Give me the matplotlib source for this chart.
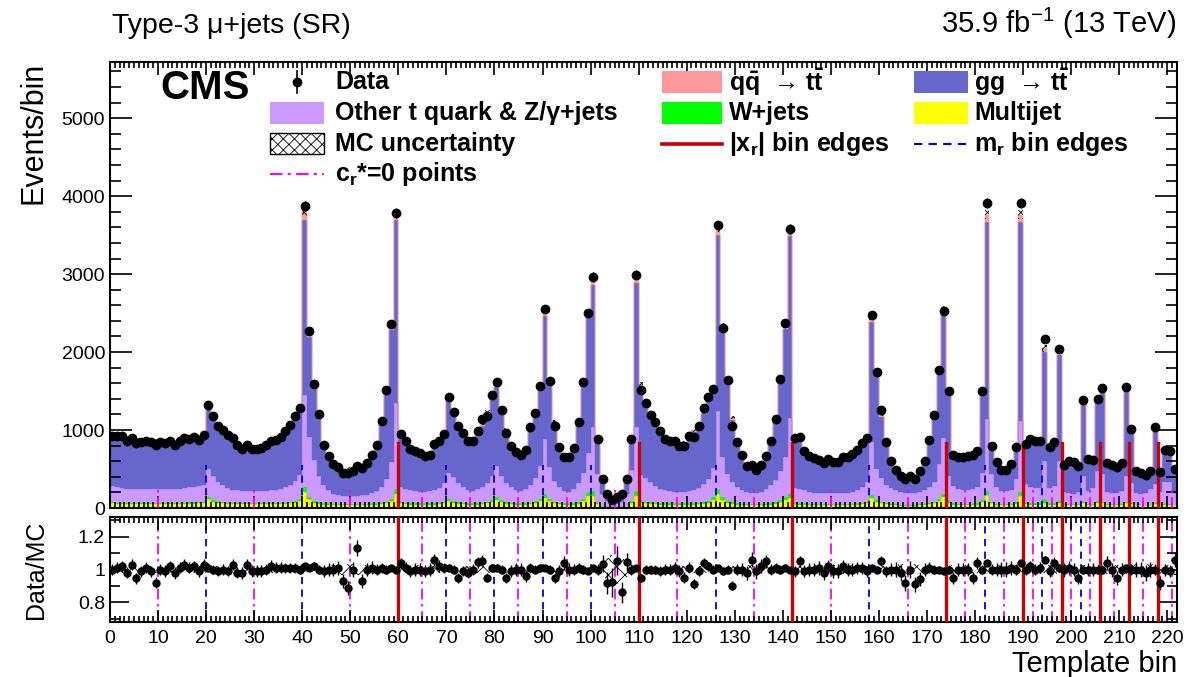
import numpy as np
import matplotlib
matplotlib.use("Agg")
import matplotlib.pyplot as plt
from matplotlib.patches import Rectangle
from matplotlib.lines import Line2D
from matplotlib.ticker import MultipleLocator

plt.rcParams['font.family'] = ['Liberation Sans', 'DejaVu Sans']
plt.rcParams['mathtext.fontset'] = 'custom'
plt.rcParams['mathtext.rm'] = 'Liberation Sans'
plt.rcParams['mathtext.it'] = 'Liberation Sans:italic'
plt.rcParams['mathtext.bf'] = 'Liberation Sans:bold'
plt.rcParams['hatch.linewidth'] = 0.6

# ---------------- data ----------------
data = [
    919, 919, 919, 864, 897, 833, 845, 864, 845, 803,
    845, 833, 864, 812, 864, 897, 889, 914, 876, 940,
    1325, 1175, 1056, 1000, 940, 897, 803, 760, 812, 760,
    760, 769, 803, 855, 876, 906, 983, 1060, 1175, 1282,
    3871, 2275, 1594, 1205, 812, 663, 564, 522, 448, 448,
    470, 534, 512, 577, 675, 803, 1120, 1518, 2361, 3786,
    949, 864, 760, 735, 705, 671, 684, 820, 855, 949,
    1424, 1231, 1047, 961, 855, 864, 991, 1141, 1175, 1454,
    1612, 1261, 961, 790, 713, 684, 748, 1034, 1218, 1560,
    2557, 1624, 1056, 778, 654, 654, 769, 1103, 1616, 2502,
    2968, 889, 376, 179, 106, 136, 179, 376, 889, 2994,
    1509, 1347, 1197, 1099, 983, 889, 855, 855, 799, 799,
    919, 906, 1047, 1282, 1419, 1526, 3627, 2310, 1646, 1047,
    845, 684, 534, 547, 491, 547, 663, 864, 1146, 1655,
    2374, 3580, 897, 906, 735, 663, 641, 620, 577, 628,
    590, 590, 654, 654, 692, 748, 833, 897, 2472, 1745,
    1261, 845, 598, 491, 406, 376, 406, 376, 470, 607,
    876, 1197, 1766, 2532, 1505, 684, 654, 654, 663, 684,
    735, 1505, 3914, 790, 585, 491, 491, 564, 778, 3914,
    824, 880, 864, 864, 2170, 778, 845, 2035, 547, 607,
    590, 534, 1385, 628, 620, 1402, 1535, 577, 547, 525,
    577, 1547, 1017, 470, 448, 427, 470, 1034, 461, 748,
    735, 504]

multijet = [
    60, 55, 55, 55, 55, 55, 55, 55, 55, 55,
    55, 55, 55, 55, 55, 55, 55, 55, 60, 60,
    110, 80, 65, 60, 55, 50, 50, 50, 50, 50,
    50, 50, 50, 50, 50, 55, 55, 60, 70, 90,
    200, 110, 70, 55, 45, 45, 40, 40, 40, 40,
    40, 40, 40, 40, 45, 45, 50, 60, 90, 180,
    60, 50, 45, 45, 45, 45, 45, 45, 50, 60,
    90, 70, 55, 50, 45, 45, 45, 50, 60, 80,
    100, 75, 55, 50, 45, 45, 45, 50, 65, 90,
    130, 90, 60, 50, 45, 45, 45, 55, 90, 150,
    160, 50, 20, 10, 6, 6, 10, 20, 60, 160,
    70, 60, 55, 50, 45, 45, 45, 45, 45, 45,
    45, 45, 50, 55, 70, 100, 180, 100, 65, 55,
    45, 40, 35, 35, 35, 35, 40, 45, 55, 75,
    100, 130, 50, 45, 45, 40, 40, 40, 40, 40,
    40, 40, 40, 40, 40, 45, 50, 60, 130, 80,
    60, 50, 40, 35, 30, 30, 30, 30, 35, 40,
    50, 60, 90, 140, 70, 45, 40, 40, 40, 40,
    45, 80, 170, 60, 40, 35, 35, 40, 55, 160,
    50, 45, 45, 45, 70, 45, 45, 60, 40, 40,
    40, 40, 60, 40, 40, 70, 60, 40, 40, 40,
    40, 60, 50, 35, 35, 35, 35, 50, 35, 45,
    45, 35]

wjets = [
    15, 15, 15, 15, 15, 15, 15, 15, 15, 15,
    15, 15, 15, 15, 15, 15, 20, 20, 20, 20,
    35, 25, 20, 15, 15, 15, 15, 15, 15, 15,
    15, 15, 15, 15, 15, 15, 15, 20, 20, 25,
    70, 35, 25, 20, 15, 15, 12, 12, 12, 12,
    12, 12, 12, 12, 15, 15, 15, 20, 30, 60,
    20, 15, 15, 15, 15, 15, 15, 15, 15, 20,
    30, 25, 20, 15, 15, 15, 15, 15, 20, 25,
    35, 25, 20, 15, 15, 15, 15, 15, 20, 30,
    45, 30, 20, 15, 15, 15, 15, 20, 30, 50,
    55, 20, 8, 4, 3, 3, 4, 8, 25, 60,
    25, 20, 20, 15, 15, 15, 15, 15, 15, 15,
    15, 15, 15, 20, 25, 35, 60, 35, 25, 20,
    15, 12, 12, 12, 12, 12, 12, 15, 20, 25,
    35, 50, 15, 15, 15, 12, 12, 12, 12, 12,
    12, 12, 12, 12, 12, 15, 15, 20, 40, 25,
    20, 15, 12, 12, 10, 10, 10, 10, 12, 12,
    15, 20, 30, 40, 25, 15, 12, 12, 12, 12,
    15, 25, 50, 20, 12, 12, 12, 12, 20, 50,
    20, 15, 15, 15, 40, 15, 15, 25, 12, 12,
    12, 12, 20, 12, 12, 20, 20, 12, 12, 12,
    12, 20, 15, 10, 10, 10, 10, 15, 10, 12,
    12, 10]

other_t = [
    210, 205, 185, 180, 175, 175, 175, 175, 170, 170,
    170, 170, 170, 175, 180, 185, 190, 195, 200, 215,
    355, 300, 245, 215, 190, 170, 160, 155, 150, 150,
    150, 150, 155, 160, 170, 180, 195, 215, 255, 310,
    1180, 770, 520, 330, 230, 170, 130, 115, 105, 100,
    100, 105, 110, 120, 135, 160, 210, 290, 470, 1110,
    195, 185, 170, 160, 150, 150, 155, 170, 190, 240,
    330, 300, 240, 200, 170, 160, 180, 200, 240, 300,
    400, 310, 250, 200, 170, 160, 190, 230, 300, 420,
    710, 400, 270, 200, 160, 150, 180, 240, 330, 510,
    820, 360, 150, 70, 40, 40, 60, 150, 400, 820,
    330, 300, 260, 220, 190, 170, 160, 150, 150, 150,
    160, 170, 190, 230, 280, 380, 1000, 520, 340, 255,
    210, 180, 160, 150, 150, 160, 190, 230, 280, 380,
    520, 980, 190, 185, 170, 155, 145, 140, 135, 135,
    135, 135, 140, 145, 150, 170, 200, 260, 680, 390,
    300, 230, 200, 180, 160, 150, 150, 150, 160, 175,
    200, 260, 450, 720, 320, 220, 190, 180, 180, 190,
    210, 350, 920, 350, 220, 170, 170, 180, 300, 900,
    240, 210, 200, 200, 490, 200, 220, 520, 150, 140,
    130, 150, 330, 170, 200, 380, 350, 150, 140, 140,
    170, 330, 250, 150, 140, 150, 200, 240, 160, 280,
    280, 150]

gg_tt = [
    612, 613, 624, 611, 605, 615, 588, 589, 593, 612,
    584, 580, 586, 563, 584, 595, 593, 604, 583, 595,
    779, 741, 710, 685, 665, 614, 574, 537, 553, 534,
    534, 543, 563, 592, 610, 625, 684, 729, 789, 825,
    2250, 1281, 909, 770, 510, 416, 368, 337, 313, 341,
    306, 304, 375, 391, 456, 563, 806, 1110, 1690, 2341,
    615, 584, 519, 497, 477, 451, 452, 528, 562, 597,
    925, 805, 759, 682, 620, 622, 684, 790, 886, 999,
    1021, 819, 662, 513, 465, 447, 510, 703, 803, 966,
    1584, 1063, 734, 501, 393, 428, 510, 750, 1126, 1754,
    1831, 437, 176, 106, 63, 77, 129, 173, 382, 1850,
    1123, 933, 832, 787, 718, 637, 614, 616, 577, 610,
    667, 741, 777, 897, 981, 973, 2261, 1620, 1175, 804,
    554, 435, 324, 306, 287, 316, 373, 552, 752, 1134,
    1636, 2330, 628, 596, 493, 439, 428, 407, 387, 414,
    394, 394, 433, 441, 473, 492, 539, 543, 1537, 1206,
    791, 538, 331, 252, 204, 209, 206, 213, 281, 365,
    580, 827, 1152, 1594, 1052, 422, 396, 406, 414, 460,
    419, 1012, 2528, 340, 298, 262, 262, 312, 384, 2558,
    493, 571, 582, 574, 1396, 506, 513, 1360, 331, 394,
    393, 346, 940, 390, 352, 897, 1067, 339, 341, 347,
    341, 1084, 677, 263, 252, 230, 213, 703, 284, 392,
    386, 268]

qq_tt = [
    22, 22, 22, 21, 21, 21, 21, 21, 21, 21,
    21, 21, 21, 21, 21, 22, 22, 22, 22, 23,
    33, 29, 27, 25, 24, 22, 20, 19, 20, 19,
    19, 19, 20, 21, 22, 22, 24, 26, 29, 32,
    95, 56, 39, 30, 20, 17, 14, 13, 12, 13,
    12, 12, 14, 14, 17, 20, 28, 38, 58, 95,
    23, 21, 19, 18, 18, 17, 17, 19, 21, 23,
    35, 31, 28, 24, 22, 22, 24, 27, 31, 36,
    40, 32, 25, 20, 18, 17, 19, 26, 30, 39,
    63, 41, 28, 20, 16, 16, 19, 27, 40, 63,
    73, 22, 9, 5, 3, 3, 5, 9, 22, 74,
    40, 34, 30, 27, 25, 22, 21, 21, 20, 21,
    23, 25, 26, 31, 35, 38, 90, 58, 41, 29,
    21, 17, 14, 13, 12, 13, 16, 22, 28, 41,
    59, 90, 23, 22, 19, 17, 16, 15, 15, 15,
    15, 15, 16, 16, 17, 19, 21, 23, 61, 44,
    30, 21, 15, 12, 10, 10, 10, 10, 12, 15,
    22, 30, 44, 64, 38, 18, 16, 16, 17, 18,
    18, 38, 95, 20, 15, 12, 12, 14, 19, 95,
    21, 22, 22, 21, 51, 20, 20, 50, 14, 15,
    15, 14, 35, 16, 16, 35, 38, 14, 14, 14,
    14, 38, 25, 12, 11, 11, 12, 26, 12, 19,
    19, 12]

# relative MC uncertainty per bin
mc_unc = [
    0.02, 0.02, 0.02, 0.02, 0.02, 0.02, 0.02, 0.02, 0.02, 0.02,
    0.02, 0.02, 0.02, 0.02, 0.02, 0.02, 0.02, 0.02, 0.02, 0.02,
    0.02, 0.02, 0.02, 0.02, 0.02, 0.02, 0.02, 0.02, 0.02, 0.02,
    0.02, 0.02, 0.02, 0.02, 0.02, 0.02, 0.02, 0.02, 0.02, 0.02,
    0.015, 0.015, 0.02, 0.02, 0.02, 0.025, 0.03, 0.03, 0.035, 0.035,
    0.035, 0.035, 0.03, 0.03, 0.025, 0.02, 0.02, 0.02, 0.015, 0.015,
    0.02, 0.02, 0.02, 0.025, 0.025, 0.025, 0.025, 0.02, 0.02, 0.02,
    0.02, 0.02, 0.02, 0.02, 0.02, 0.02, 0.02, 0.02, 0.02, 0.02,
    0.02, 0.02, 0.02, 0.02, 0.025, 0.025, 0.02, 0.02, 0.02, 0.02,
    0.015, 0.02, 0.02, 0.02, 0.025, 0.025, 0.02, 0.02, 0.02, 0.015,
    0.015, 0.03, 0.045, 0.07, 0.09, 0.09, 0.07, 0.045, 0.03, 0.015,
    0.02, 0.02, 0.02, 0.02, 0.02, 0.02, 0.02, 0.02, 0.02, 0.02,
    0.02, 0.02, 0.02, 0.02, 0.02, 0.02, 0.015, 0.015, 0.02, 0.02,
    0.02, 0.025, 0.03, 0.03, 0.03, 0.03, 0.025, 0.02, 0.02, 0.02,
    0.015, 0.015, 0.02, 0.02, 0.02, 0.025, 0.025, 0.025, 0.025, 0.025,
    0.025, 0.025, 0.025, 0.025, 0.025, 0.02, 0.02, 0.02, 0.015, 0.02,
    0.02, 0.02, 0.03, 0.03, 0.035, 0.035, 0.035, 0.035, 0.03, 0.025,
    0.02, 0.02, 0.02, 0.015, 0.02, 0.025, 0.025, 0.025, 0.025, 0.025,
    0.02, 0.02, 0.015, 0.025, 0.03, 0.03, 0.03, 0.03, 0.025, 0.015,
    0.025, 0.025, 0.025, 0.025, 0.02, 0.025, 0.025, 0.02, 0.03, 0.03,
    0.03, 0.03, 0.025, 0.03, 0.03, 0.025, 0.025, 0.03, 0.03, 0.03,
    0.03, 0.025, 0.025, 0.035, 0.035, 0.035, 0.035, 0.025, 0.035, 0.03,
    0.03, 0.035]

xr_edges = [60, 110, 142, 174, 190, 198, 206, 212, 218]
mr_edges = [20, 40, 70, 80, 90, 100, 126, 158, 182, 194, 202]
cr0_points = [10, 30, 50, 65, 75, 85, 95, 105, 118, 134, 150, 166, 178, 186,
              192, 196, 200, 204, 209, 215, 221]
n_bins = 222

# ---------------- colours ----------------
C_MJ = '#ffff00'
C_WJ = '#00ff00'
C_OT = '#cc99ff'
C_GG = '#6666cc'
C_QQ = '#ff9999'
C_RED = '#cc0000'
C_BLUE = '#0000dd'
C_MAG = '#ff00ff'

edges = np.arange(n_bins + 1)
centers = edges[:-1] + 0.5
data_a = np.asarray(data, float)

fig = plt.figure(figsize=(11.9, 6.77), dpi=100)
ax = fig.add_axes([0.0924, 0.2496, 0.8966, 0.6588])
rax = fig.add_axes([0.0924, 0.0812, 0.8966, 0.1551])

# stacked MC
base = np.zeros(n_bins)
for vals, col in [(multijet, C_MJ), (wjets, C_WJ), (other_t, C_OT), (gg_tt, C_GG), (qq_tt, C_QQ)]:
    v = np.asarray(vals, float)
    ax.stairs(base + v, edges, baseline=base, fill=True, facecolor=col,
              edgecolor=col, lw=0.3, zorder=1)
    base = base + v
mc = base
unc = mc * np.asarray(mc_unc)
ax.bar(centers, 2 * unc, bottom=mc - unc, width=1.0, fill=False, hatch='xxxx',
       edgecolor='black', linewidth=0, zorder=2)

# boundary lines
for e in cr0_points:
    ax.plot([e, e], [0, 270], color=C_MAG, lw=1.3, dashes=(6, 2.5, 1.5, 2.5), zorder=3)
for e in mr_edges:
    ax.plot([e, e], [0, 555], color=C_BLUE, lw=1.3, dashes=(4, 3), zorder=3)
for e in xr_edges:
    ax.plot([e, e], [0, 835], color=C_RED, lw=2.4, zorder=3)

ax.errorbar(centers, data_a, yerr=np.sqrt(data_a), fmt='o', color='black',
            ms=6, elinewidth=1, capsize=0, zorder=5)

ax.set_xlim(0, n_bins)
ax.set_ylim(0, 5720)
ax.xaxis.set_major_locator(MultipleLocator(10))
ax.xaxis.set_minor_locator(MultipleLocator(1))
ax.yaxis.set_major_locator(MultipleLocator(1000))
ax.yaxis.set_minor_locator(MultipleLocator(200))
ax.tick_params(axis='both', which='both', direction='in', top=True, right=True,
               labelbottom=False, labelsize=14, width=1.2)
ax.tick_params(axis='x', which='major', length=9)
ax.tick_params(axis='x', which='minor', length=4)
ax.tick_params(axis='y', which='major', length=16)
ax.tick_params(axis='y', which='minor', length=8)
for s in ax.spines.values():
    s.set_linewidth(1.5)
ax.set_ylabel('Events/bin', fontsize=22, loc='top')
ax.yaxis.set_label_coords(-0.058, 1.0)

# ---------------- ratio ----------------
ratio = data_a / mc
rerr = np.sqrt(data_a) / mc
runc = np.asarray(mc_unc)
rax.bar(centers, 2 * runc, bottom=1 - runc, width=1.0, fill=False, hatch='xx',
        edgecolor='black', linewidth=0, zorder=2)
for e in cr0_points:
    rax.axvline(e, color=C_MAG, lw=1.3, dashes=(6, 2.5, 1.5, 2.5), zorder=1)
for e in mr_edges:
    rax.axvline(e, color=C_BLUE, lw=1.3, dashes=(4, 3), zorder=1)
for e in xr_edges:
    rax.axvline(e, color=C_RED, lw=2.4, zorder=3)
rax.errorbar(centers, ratio, yerr=rerr, fmt='o', color='black', ms=5,
             elinewidth=1, capsize=0, zorder=5)
rax.set_xlim(0, n_bins)
rax.set_ylim(0.68, 1.32)
rax.xaxis.set_major_locator(MultipleLocator(10))
rax.xaxis.set_minor_locator(MultipleLocator(1))
rax.set_yticks([0.8, 1.0, 1.2])
rax.set_yticklabels(['0.8', '1', '1.2'])
rax.yaxis.set_minor_locator(MultipleLocator(0.1))
rax.tick_params(axis='both', which='both', direction='in', top=True, right=True,
                labelsize=14, width=1.2)
rax.tick_params(axis='x', which='major', length=9, pad=6)
rax.tick_params(axis='x', which='minor', length=4)
rax.tick_params(axis='y', which='major', length=14)
rax.tick_params(axis='y', which='minor', length=7)
for s in rax.spines.values():
    s.set_linewidth(1.5)
rax.set_ylabel('Data/MC', fontsize=18)
rax.yaxis.set_label_coords(-0.058, 0.5)
rax.set_xlabel('Template bin', fontsize=21, loc='right')
rax.xaxis.set_label_coords(1.0, -0.27)

# ---------------- header texts ----------------
fig.text(112 / 1190, 1 - 33 / 677, 'Type-3 μ+jets (SR)', fontsize=20.5, va='baseline', ha='left')
fig.text(1176 / 1190, 1 - 33 / 677, r'35.9 fb$^{\mathregular{-1}}$ (13 TeV)', fontsize=21,
         va='baseline', ha='right')
ax.text(0.047, 0.942, 'CMS', transform=ax.transAxes, fontsize=29, fontweight='bold',
        va='center', ha='left')

# ---------------- legend ----------------
rows = [0.955, 0.886, 0.817, 0.748]
sw_h = 0.048
lfs = 18
tr = ax.transAxes


def swatch(x0, x1, y, fc, hatch=None):
    r = Rectangle((x0, y - sw_h / 2), x1 - x0, sw_h, transform=tr, facecolor=fc,
                  edgecolor='black' if hatch else fc, lw=1.0 if hatch else 0,
                  hatch=hatch, zorder=6, clip_on=False)
    ax.add_patch(r)


def label(x, y, s):
    ax.text(x, y, s, transform=tr, fontsize=lfs, fontweight='bold', va='center',
            ha='left', zorder=6)


# column 1
ax.add_line(Line2D([0.175, 0.175], [rows[0] - 0.025, rows[0] + 0.025], transform=tr,
                   color='black', lw=1.2, zorder=6))
ax.add_line(Line2D([0.175], [rows[0]], transform=tr, marker='o', ms=6,
                   color='black', zorder=6))
label(0.211, rows[0], 'Data')
swatch(0.150, 0.201, rows[1], C_OT)
label(0.211, rows[1], 'Other t quark & Z/γ+jets')
swatch(0.150, 0.201, rows[2], 'white', hatch='xxx')
label(0.211, rows[2], 'MC uncertainty')
ax.add_line(Line2D([0.150, 0.201], [rows[3], rows[3]], transform=tr, color=C_MAG,
                   lw=1.5, dashes=(6, 2.5, 1.5, 2.5), zorder=6))
label(0.211, rows[3], r'$\mathbf{c_r}$*=0 points')

# column 2
swatch(0.517, 0.574, rows[0], C_QQ)
label(0.580, rows[0], r'$\mathbf{q\bar{q}}$  → $\mathbf{t\bar{t}}$')
swatch(0.517, 0.574, rows[1], C_WJ)
label(0.580, rows[1], 'W+jets')
ax.add_line(Line2D([0.517, 0.574], [rows[2], rows[2]], transform=tr, color=C_RED,
                   lw=2.6, zorder=6))
label(0.580, rows[2], r'|$\mathbf{x_r}$| bin edges')

# column 3
swatch(0.7535, 0.804, rows[0], C_GG)
label(0.810, rows[0], r'gg  → $\mathbf{t\bar{t}}$')
swatch(0.7535, 0.804, rows[1], C_MJ)
label(0.810, rows[1], 'Multijet')
ax.add_line(Line2D([0.7535, 0.804], [rows[2], rows[2]], transform=tr, color=C_BLUE,
                   lw=1.5, dashes=(4, 3), zorder=6))
label(0.810, rows[2], r'$\mathbf{m_r}$ bin edges')

fig.savefig('out.png', dpi=100)
